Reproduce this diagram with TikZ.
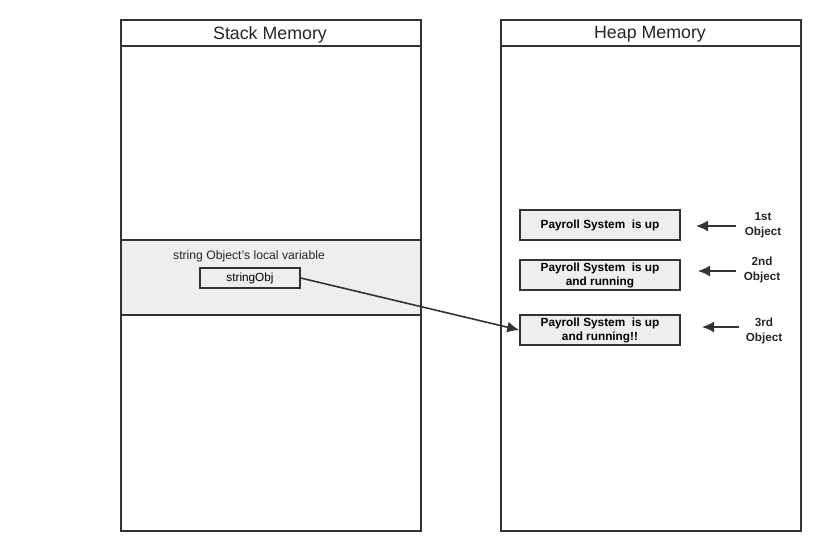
\documentclass[tikz,border=0pt]{standalone}
\usepackage{fontspec}
\setmainfont{Liberation Sans}
\usetikzlibrary{arrows.meta}
\usetikzlibrary{positioning}
\usepackage{xcolor}
\definecolor{edge}{HTML}{333333}
\definecolor{band}{HTML}{EEEEEE}

\begin{document}
\begin{tikzpicture}[x=1pt, y=-1pt,
		memory/.style={draw=edge, line width=1.6pt, minimum width=300pt, minimum height=511pt, anchor=north west, inner sep=0pt},
		objbox/.style={draw=edge, fill=band, line width=1.6pt, minimum width=160pt, minimum height=30pt, inner sep=0pt, align=center, font=\fontsize{11.8}{14}\selectfont\bfseries},
		varbox/.style={draw=edge, fill=band, line width=1.4pt, minimum width=100pt, minimum height=20pt, inner sep=0pt, font=\fontsize{11.8}{13}\selectfont},
		tag/.style={align=center, font=\fontsize{11.7}{14.5}\selectfont\bfseries, text=black!85},
		pointer/.style={-{Latex[length=12pt, width=11pt]}, draw=edge, line width=1.6pt}]
	\useasboundingbox (0,0) rectangle (822,550);
	% stack side
	\fill[band] (120,240) rectangle (420,315);
	\draw[edge, line width=1.6pt] (120,240) -- (420,240) (120,315) -- (420,315);
	\node[memory] (stack) at (120,19) {};
	\draw[edge, line width=1.6pt] (120,46) -- (420,46);
	\node[font=\fontsize{17.8}{20}\selectfont, text=black!85] (stackhead) at (270,34.5) {Stack Memory};
	\node[font=\fontsize{12.2}{14}\selectfont, text=black!85] (varlabel) at (249,256.5) {string Object's local variable};
	\node[varbox] (strobj) at (250,278) {stringObj};
	% heap side
	\node[memory] (heap) at (500,19) {};
	\draw[edge, line width=1.6pt] (500,46) -- (800,46);
	\node[font=\fontsize{17.8}{20}\selectfont, text=black!85] (heaphead) at (650,34.5) {Heap Memory};
	\node[objbox] (obj1) at (600,225) {Payroll System\ \ is up};
	\node[objbox] (obj2) at (600,275) {Payroll System\ \ is up\\and running};
	\node[objbox] (obj3) at (600,330) {Payroll System\ \ is up\\and running!!};
	% object labels
	\node[tag] (tag1) at (763,225) {1st\\Object};
	\node[tag] (tag2) at (762,270) {2nd\\Object};
	\node[tag] (tag3) at (764,331) {3rd\\Object};
	\coordinate (a1) at (736,226); \coordinate (b1) at (696,226);
	\coordinate (a2) at (736,271); \coordinate (b2) at (698,271);
	\coordinate (a3) at (739,327); \coordinate (b3) at (702,327);
	\draw[pointer] (a1) -- (b1);
	\draw[pointer] (a2) -- (b2);
	\draw[pointer] (a3) -- (b3);
	% reference to the 3rd object
	\draw[pointer] (strobj.east) -- (obj3.west);
\end{tikzpicture}
\end{document}
